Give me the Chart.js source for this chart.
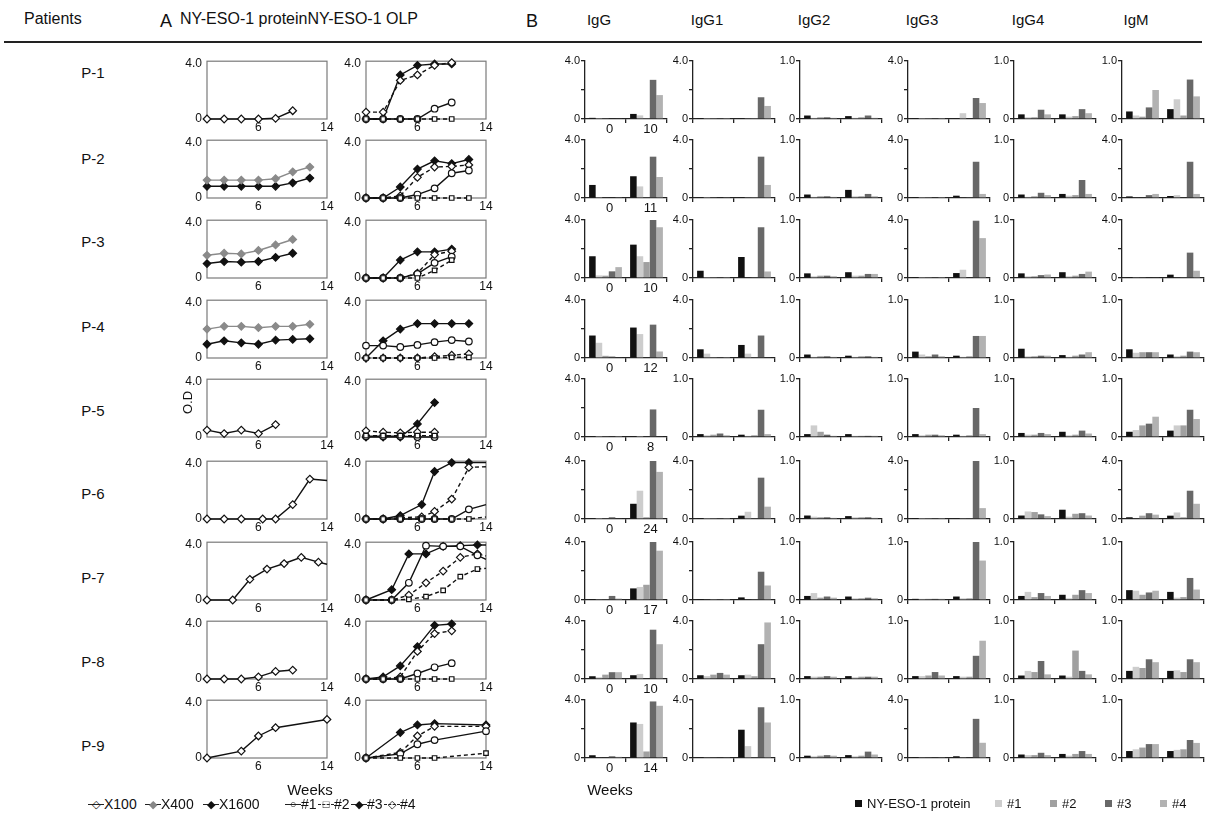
<!DOCTYPE html>
<html>
<head>
<meta charset="utf-8">
<script src="https://cdn.jsdelivr.net/npm/chart.js@4.4.1/dist/chart.umd.min.js"></script>
<style>
  body { margin: 0; background: #fff; }
  #fig { position: relative; width: 1211px; height: 815px; overflow: hidden; font-family: "Liberation Sans", Arial, sans-serif; color: #111; }
  .t { position: absolute; white-space: nowrap; }
  canvas { position: absolute; }
  .rule { position: absolute; left: 4px; top: 41px; width: 1198px; height: 2px; background: #222; }
</style>
</head>
<body>
<div id="fig"><div class="rule"></div></div>
<script>
const FONT = '"Liberation Sans", Arial, sans-serif';

// ---- data ----
const patients = ["P-1", "P-2", "P-3", "P-4", "P-5", "P-6", "P-7", "P-8", "P-9"];
const isotypes = ["IgG", "IgG1", "IgG2", "IgG3", "IgG4", "IgM"];
const barSeries = ["NY-ESO-1 protein", "#1", "#2", "#3", "#4"];
const lastWeek = ["10", "11", "10", "12", "8", "24", "17", "10", "14"];
const barMax = [
  [4, 4, 1, 4, 1, 1],
  [4, 4, 1, 4, 1, 4],
  [4, 4, 1, 4, 1, 4],
  [4, 4, 1, 1, 1, 1],
  [4, 1, 1, 1, 1, 1],
  [4, 4, 1, 4, 1, 4],
  [4, 4, 1, 1, 1, 1],
  [4, 4, 1, 1, 1, 1],
  [4, 4, 1, 4, 1, 1]
];

// NY-ESO-1 protein titration (O.D.)
const protP1 = { weeks: [0, 2, 4, 6, 8, 10], X100: [0, 0, 0, 0, 0.05, 0.6] };
const protP2 = { weeks: [0, 2, 4, 6, 8, 10, 12], X400: [1.3, 1.3, 1.3, 1.3, 1.4, 1.9, 2.25], X1600: [0.85, 0.85, 0.85, 0.85, 0.85, 1.1, 1.45] };
const protP3 = { weeks: [0, 2, 4, 6, 8, 10], X400: [1.65, 1.8, 1.75, 2.0, 2.4, 2.8], X1600: [1.05, 1.2, 1.15, 1.2, 1.5, 1.8] };
const protP4 = { weeks: [0, 2, 4, 6, 8, 10, 12], X400: [2.1, 2.3, 2.3, 2.2, 2.3, 2.3, 2.45], X1600: [1.0, 1.25, 1.1, 1.0, 1.3, 1.35, 1.4] };
const protP5 = { weeks: [0, 2, 4, 6, 8], X100: [0.5, 0.25, 0.5, 0.25, 0.9] };
const protP6 = { weeks: [0, 2, 4, 6.5, 8, 10, 12, 14], X100: [0, 0, 0, 0, 0, 1.05, 2.9, 2.8] };
const protP7 = { weeks: [0, 3, 5, 7, 9, 11, 13, 14], X100: [0, 0, 1.5, 2.25, 2.65, 3.1, 2.75, 2.6] };
const protP8 = { weeks: [0, 2, 4, 6, 8, 10], X100: [0, 0, 0, 0.15, 0.55, 0.65] };
const protP9 = { weeks: [0, 4, 6, 8, 14], X100: [0, 0.5, 1.6, 2.2, 2.8] };

// NY-ESO-1 OLP #1-#4 (O.D.)
const olpP1 = { weeks: [0, 2, 4, 6, 8, 10], s1: [0, 0, 0, 0, 0.75, 1.2], s2: [0, 0, 0, 0, 0, 0], s3: [0, 0, 3.2, 3.9, 4.0, 4.0], s4: [0.5, 0.5, 2.8, 3.2, 3.9, 4.1] };
const olpP2 = { weeks: [0, 2, 4, 6, 8, 10, 12], s1: [0, 0, 0, 0.25, 0.7, 1.8, 2.0], s2: [0, 0, 0, 0, 0, 0, 0], s3: [0, 0, 0.8, 2.1, 2.7, 2.5, 2.8], s4: [0, 0, 0.15, 1.5, 2.25, 2.3, 2.4] };
const olpP3 = { weeks: [0, 2, 4, 6, 8, 10], s1: [0, 0, 0, 0.3, 1.1, 1.55], s2: [0, 0, 0, 0, 0.55, 1.3], s3: [0, 0, 1.3, 1.9, 1.9, 2.1], s4: [0, 0, 0, 0.35, 1.7, 1.95] };
const olpP4 = { weeks: [0, 2, 4, 6, 8, 10, 12], s1: [0.9, 0.9, 0.8, 0.95, 1.15, 1.3, 1.2], s2: [0, 0, 0, 0, 0, 0.05, 0.05], s3: [0, 1.25, 2.1, 2.5, 2.5, 2.5, 2.5], s4: [0, 0, 0, 0, 0.1, 0.2, 0.3] };
const olpP5 = { weeks: [0, 2, 4, 6, 8], s1: [0.05, 0.05, 0.05, 0, 0], s2: [0.1, 0.1, 0.1, 0.1, 0.1], s3: [0, 0, 0, 0.95, 2.5], s4: [0.45, 0.35, 0.3, 0.35, 0.35] };
const olpP6 = { weeks: [0, 2, 4, 6.5, 8, 10, 12, 14], s1: [0, 0, 0, 0, 0, 0, 0.7, 1.05], s2: [0, 0, 0, 0, 0, 0, 0, 0.15], s3: [0, 0, 0.25, 1.05, 3.45, 4.1, 4.1, 4.1], s4: [0, 0, 0.1, 0.15, 0.55, 1.45, 3.75, 3.8] };
const olpP7 = { weeks: [0, 3, 5, 7, 9, 11, 13, 14], s1: [0, 0, 1.25, 3.95, 3.9, 3.9, 3.25, 2.95], s2: [0, 0, 0.05, 0.25, 0.7, 1.7, 2.25, 2.3], s3: [0, 0.75, 3.35, 3.35, 3.9, 3.95, 4.0, 4.0], s4: [0, 0, 0.35, 1.25, 2.1, 3.1, 3.35, 3.2] };
const olpP8 = { weeks: [0, 2, 4, 6, 8, 10], s1: [0, 0, 0, 0.4, 0.85, 1.15], s2: [0, 0, 0, 0, 0, 0], s3: [0, 0.15, 0.95, 2.35, 3.9, 4.0], s4: [0, 0, 0.15, 2.0, 3.3, 3.5] };
const olpP9 = { weeks: [0, 4, 6, 8, 14], s1: [0, 0.3, 1.0, 1.3, 1.95], s2: [0, 0, 0, 0, 0.35], s3: [0, 1.85, 2.4, 2.5, 2.4], s4: [0, 0.4, 1.6, 2.3, 2.3] };

// antibody subclass O.D., per isotype: [week 0 values, last week values], series order as barSeries
const barsP1 = [
  [[0.08, 0.02, 0.03, 0.05, 0.05], [0.35, 0.25, 0.02, 2.7, 1.65]],
  [[0.02, 0.02, 0.02, 0.02, 0.02], [0.05, 0.03, 0.02, 1.5, 0.9]],
  [[0.06, 0.02, 0.03, 0.03, 0.02], [0.05, 0.02, 0.03, 0.06, 0.02]],
  [[0.03, 0.02, 0.02, 0.02, 0.02], [0.05, 0.4, 0.05, 1.45, 1.1]],
  [[0.08, 0.03, 0.03, 0.16, 0.08], [0.08, 0.04, 0.05, 0.17, 0.1]],
  [[0.13, 0.06, 0.04, 0.2, 0.5], [0.17, 0.34, 0.06, 0.68, 0.39]]
];
const barsP2 = [
  [[0.9, 0.02, 0.05, 0.05, 0.03], [1.5, 0.8, 0.03, 2.85, 1.45]],
  [[0.04, 0.02, 0.03, 0.04, 0.03], [0.05, 0.03, 0.02, 2.85, 0.9]],
  [[0.06, 0.02, 0.03, 0.03, 0.02], [0.14, 0.03, 0.03, 0.07, 0.03]],
  [[0.03, 0.02, 0.02, 0.03, 0.02], [0.16, 0.05, 0.03, 2.5, 0.28]],
  [[0.06, 0.02, 0.03, 0.09, 0.05], [0.07, 0.04, 0.05, 0.31, 0.07]],
  [[0.11, 0.04, 0.05, 0.2, 0.28], [0.14, 0.2, 0.05, 2.5, 0.28]]
];
const barsP3 = [
  [[1.5, 0.18, 0.16, 0.46, 0.75], [2.3, 1.5, 1.1, 4.0, 3.5]],
  [[0.5, 0.02, 0.02, 0.02, 0.02], [1.45, 0.05, 0.03, 3.5, 0.45]],
  [[0.08, 0.03, 0.04, 0.04, 0.03], [0.1, 0.04, 0.04, 0.07, 0.07]],
  [[0.03, 0.02, 0.02, 0.02, 0.02], [0.34, 0.57, 0.05, 3.95, 2.75]],
  [[0.08, 0.03, 0.03, 0.05, 0.06], [0.1, 0.03, 0.04, 0.07, 0.11]],
  [[0.06, 0.06, 0.03, 0.05, 0.05], [0.23, 0.05, 0.03, 1.75, 0.5]]
];
const barsP4 = [
  [[1.55, 1.05, 0.15, 0.1, 0.05], [2.1, 1.65, 0.05, 2.3, 0.45]],
  [[0.6, 0.3, 0.02, 0.02, 0.02], [0.9, 0.3, 0.03, 1.55, 0.05]],
  [[0.06, 0.02, 0.03, 0.03, 0.02], [0.04, 0.02, 0.03, 0.03, 0.02]],
  [[0.11, 0.06, 0.03, 0.06, 0.03], [0.04, 0.02, 0.03, 0.38, 0.38]],
  [[0.16, 0.03, 0.03, 0.04, 0.04], [0.05, 0.02, 0.04, 0.06, 0.1]],
  [[0.15, 0.09, 0.1, 0.1, 0.1], [0.06, 0.03, 0.04, 0.11, 0.1]]
];
const barsP5 = [
  [[0.04, 0.02, 0.03, 0.03, 0.02], [0.05, 0.02, 0.05, 1.9, 0.05]],
  [[0.05, 0.03, 0.04, 0.06, 0.03], [0.04, 0.02, 0.03, 0.47, 0.05]],
  [[0.05, 0.2, 0.09, 0.04, 0.02], [0.05, 0.02, 0.02, 0.02, 0.02]],
  [[0.05, 0.03, 0.04, 0.04, 0.03], [0.04, 0.02, 0.03, 0.5, 0.05]],
  [[0.07, 0.04, 0.04, 0.07, 0.05], [0.09, 0.03, 0.04, 0.11, 0.06]],
  [[0.09, 0.12, 0.2, 0.23, 0.35], [0.11, 0.2, 0.2, 0.47, 0.31]]
];
const barsP6 = [
  [[0.05, 0.02, 0.03, 0.12, 0.05], [1.05, 1.95, 0.12, 4.0, 3.25]],
  [[0.02, 0.02, 0.02, 0.02, 0.02], [0.23, 0.5, 0.03, 2.85, 0.85]],
  [[0.06, 0.04, 0.03, 0.03, 0.02], [0.05, 0.03, 0.03, 0.03, 0.02]],
  [[0.02, 0.02, 0.02, 0.02, 0.02], [0.05, 0.03, 0.03, 4.0, 0.75]],
  [[0.06, 0.13, 0.12, 0.08, 0.05], [0.16, 0.04, 0.09, 0.1, 0.06]],
  [[0.12, 0.05, 0.23, 0.4, 0.3], [0.23, 0.45, 0.12, 1.95, 1.05]]
];
const barsP7 = [
  [[0.03, 0.03, 0.03, 0.28, 0.1], [0.8, 0.9, 1.05, 4.0, 3.4]],
  [[0.02, 0.05, 0.02, 0.02, 0.02], [0.18, 0.05, 0.03, 1.95, 1.0]],
  [[0.07, 0.12, 0.04, 0.06, 0.04], [0.06, 0.03, 0.03, 0.04, 0.03]],
  [[0.02, 0.02, 0.02, 0.02, 0.02], [0.06, 0.03, 0.03, 1.0, 0.68]],
  [[0.07, 0.14, 0.05, 0.12, 0.07], [0.09, 0.03, 0.09, 0.17, 0.12]],
  [[0.17, 0.16, 0.09, 0.13, 0.16], [0.14, 0.04, 0.05, 0.38, 0.18]]
];
const barsP8 = [
  [[0.19, 0.12, 0.3, 0.47, 0.47], [0.26, 0.35, 0.05, 3.4, 2.4]],
  [[0.26, 0.2, 0.3, 0.42, 0.3], [0.26, 0.3, 0.19, 2.4, 3.9]],
  [[0.05, 0.04, 0.04, 0.05, 0.04], [0.05, 0.03, 0.04, 0.04, 0.04]],
  [[0.05, 0.05, 0.06, 0.12, 0.06], [0.05, 0.04, 0.04, 0.4, 0.66]],
  [[0.06, 0.14, 0.12, 0.31, 0.08], [0.06, 0.04, 0.49, 0.14, 0.08]],
  [[0.14, 0.21, 0.19, 0.34, 0.29], [0.14, 0.15, 0.12, 0.34, 0.29]]
];
const barsP9 = [
  [[0.19, 0.05, 0.05, 0.12, 0.08], [2.45, 2.35, 0.45, 3.9, 3.6]],
  [[0.05, 0.03, 0.03, 0.03, 0.03], [1.95, 0.82, 0.03, 3.5, 2.45]],
  [[0.04, 0.03, 0.04, 0.05, 0.04], [0.05, 0.03, 0.04, 0.11, 0.06]],
  [[0.03, 0.03, 0.03, 0.03, 0.03], [0.12, 0.03, 0.05, 2.7, 1.05]],
  [[0.06, 0.05, 0.05, 0.09, 0.05], [0.07, 0.04, 0.07, 0.12, 0.07]],
  [[0.12, 0.15, 0.18, 0.24, 0.24], [0.12, 0.14, 0.15, 0.31, 0.26]]
];

const protData = [protP1, protP2, protP3, protP4, protP5, protP6, protP7, protP8, protP9];
const olpData = [olpP1, olpP2, olpP3, olpP4, olpP5, olpP6, olpP7, olpP8, olpP9];
const barData = [barsP1, barsP2, barsP3, barsP4, barsP5, barsP6, barsP7, barsP8, barsP9];
const openEndRows = [5, 6]; // P-6, P-7 lines run off the right edge

// ---- layout ----
const rowZero = [119, 198, 278, 358, 437, 519, 600, 679, 758];
const rowLabelY = [72, 158, 241, 326, 410, 493, 577, 661, 745];
const colLeftA = [207, 366];
const boxW = 120, boxH = 62;
const axisXB = [585, 693, 800, 908, 1014, 1122];
const barW = 82, barH = 58;

const barColors = ["#111111", "#cdcdcd", "#a0a0a0", "#686868", "#b2b2b2"];
const protStyle = {
  X100: { color: "#111", fill: "#fff", shape: "rectRot", r: 3.8, dash: [] },
  X400: { color: "#8a8a8a", fill: "#8a8a8a", shape: "rectRot", r: 3.8, dash: [] },
  X1600: { color: "#111", fill: "#111", shape: "rectRot", r: 3.8, dash: [] }
};
const olpStyle = {
  s2: { color: "#111", fill: "#fff", shape: "rect", r: 3.2, dash: [4, 3] },
  s1: { color: "#111", fill: "#fff", shape: "circle", r: 3.3, dash: [] },
  s4: { color: "#111", fill: "#fff", shape: "rectRot", r: 3.8, dash: [4, 3] },
  s3: { color: "#111", fill: "#111", shape: "rectRot", r: 3.8, dash: [] }
};

const fig = document.getElementById("fig");

function addText(str, x, y, size, align) {
  const d = document.createElement("div");
  d.className = "t";
  d.textContent = str;
  d.style.fontSize = size + "px";
  d.style.lineHeight = size + "px";
  d.style.top = (y - size / 2) + "px";
  d.style.left = x + "px";
  if (align === "center") d.style.transform = "translateX(-50%)";
  fig.appendChild(d);
  return d;
}

function addCanvas(left, top, w, h) {
  const c = document.createElement("canvas");
  c.width = w;
  c.height = h;
  c.style.left = left + "px";
  c.style.top = top + "px";
  fig.appendChild(c);
  return c;
}

const boxPlugin = {
  id: "box",
  beforeDatasetsDraw(chart) {
    const a = chart.chartArea, ctx = chart.ctx;
    ctx.save();
    ctx.strokeStyle = "#7a7a7a";
    ctx.lineWidth = 1.2;
    ctx.strokeRect(a.left, a.top, a.right - a.left, a.bottom - a.top);
    ctx.restore();
  }
};

function lineChart(boxLeft, zero, src, styles, openEnd) {
  const padT = 8, padR = 10, yW = 30, xH = 18;
  const c = addCanvas(boxLeft - yW, zero - boxH - padT, yW + boxW + padR, padT + boxH + xH);
  const datasets = Object.keys(styles).filter(k => src[k]).map(k => {
    const s = styles[k];
    const n = src[k].length;
    return {
      data: src[k].map((v, i) => ({ x: src.weeks[i], y: v })),
      borderColor: s.color,
      borderWidth: 1.4,
      borderDash: s.dash,
      pointStyle: s.shape,
      pointRadius: src[k].map((v, i) => (openEnd && i === n - 1 ? 0 : s.r)),
      pointBackgroundColor: s.fill,
      pointBorderColor: s.color,
      pointBorderWidth: 1.2,
      clip: false
    };
  });
  new Chart(c, {
    type: "line",
    data: { datasets },
    plugins: [boxPlugin],
    options: {
      responsive: false,
      animation: false,
      layout: { padding: { top: padT, right: padR, left: 0, bottom: 0 } },
      plugins: { legend: { display: false }, tooltip: { enabled: false } },
      scales: {
        x: {
          type: "linear", min: 0, max: 14,
          grid: { display: false, drawTicks: false, tickLength: 0 }, border: { display: false },
          afterBuildTicks: s => { s.ticks = [{ value: 6 }, { value: 14 }]; },
          afterFit: s => { s.height = xH; },
          ticks: { font: { size: 12, family: FONT }, color: "#111", padding: 1, maxRotation: 0, autoSkip: false }
        },
        y: {
          min: 0, max: 4.2,
          grid: { display: false, drawTicks: false, tickLength: 0 }, border: { display: false },
          afterBuildTicks: s => { s.ticks = [{ value: 0 }, { value: 4 }]; },
          afterFit: s => { s.width = yW; },
          ticks: { font: { size: 12, family: FONT }, color: "#111", padding: 5, callback: v => (v === 0 ? "0" : "4.0") }
        }
      }
    }
  });
}

function barChart(axisX, zero, vals, max, week, showX) {
  const padT = 8, padR = 6, yW = 26, xH = 18;
  const c = addCanvas(axisX - yW, zero - barH - padT, yW + barW + padR, padT + barH + xH);
  const datasets = barSeries.map((name, j) => ({
    label: name,
    data: [vals[0][j], vals[1][j]],
    backgroundColor: barColors[j],
    borderWidth: 0,
    categoryPercentage: 0.8,
    barPercentage: 1.0
  }));
  const axisLine = { color: "#222", width: 1.3 };
  new Chart(c, {
    type: "bar",
    data: { labels: ["0", week], datasets },
    options: {
      responsive: false,
      animation: false,
      layout: { padding: { top: padT, right: padR, left: 0, bottom: 0 } },
      plugins: { legend: { display: false }, tooltip: { enabled: false } },
      scales: {
        x: {
          grid: { offset: true, drawOnChartArea: false, drawTicks: true, tickLength: 4, color: "#222", lineWidth: 1.3 },
          border: axisLine,
          afterFit: s => { s.height = xH; },
          ticks: { display: showX, font: { size: 13, family: FONT }, color: "#111", padding: -1, labelOffset: 4, maxRotation: 0 }
        },
        y: {
          min: 0, max: max,
          grid: { drawOnChartArea: false, drawTicks: true, tickLength: 4, color: "#222", lineWidth: 1.3 },
          border: axisLine,
          afterBuildTicks: s => { s.ticks = (max === 4 ? [0, 2, 4] : [0, 1]).map(v => ({ value: v })); },
          afterFit: s => { s.width = yW; },
          ticks: { font: { size: 11, family: FONT }, color: "#111", padding: 1, callback: v => (v === 0 ? "0" : v === max ? max.toFixed(1) : "") }
        }
      }
    }
  });
}

// ---- header ----
addText("Patients", 24, 19, 16);
addText("A", 160, 21, 18);
addText("NY-ESO-1 proteinNY-ESO-1 OLP", 180, 19, 16);
addText("B", 526, 21, 18);
isotypes.forEach((iso, k) => addText(iso, axisXB[k] + 14, 19, 15, "center"));

// ---- rows ----
patients.forEach((p, i) => {
  const zero = rowZero[i];
  addText(p, 93, rowLabelY[i], 15, "center");
  const open = openEndRows.includes(i);
  lineChart(colLeftA[0], zero, protData[i], protStyle, open);
  lineChart(colLeftA[1], zero, olpData[i], olpStyle, open);
  isotypes.forEach((iso, k) => {
    barChart(axisXB[k], zero, barData[i][k], barMax[i][k], lastWeek[i], k === 0);
  });
});

// O.D label
const od = addText("O.D", 176, 402, 13);
od.style.transform = "rotate(-90deg)";

// ---- bottom labels and legends ----
addText("Weeks", 310, 789, 15, "center");
addText("Weeks", 610, 789, 15, "center");

function legendItem(x, y, sym, symColor, dashed, label) {
  const wrap = document.createElement("div");
  wrap.className = "t";
  wrap.style.left = x + "px";
  wrap.style.top = (y - 7) + "px";
  wrap.style.fontSize = "14px";
  wrap.style.lineHeight = "14px";
  const line = document.createElement("span");
  line.style.cssText = "display:inline-block;position:relative;width:16px;height:14px;vertical-align:top;";
  line.innerHTML = '<span style="position:absolute;left:0;right:0;top:7px;border-top:1.3px ' + (dashed ? "dashed" : "solid") + ' #222"></span>' +
    '<span style="position:absolute;left:0;right:0;top:0;text-align:center;font-size:11px;line-height:14px;color:' + symColor + '">' + sym + "</span>";
  wrap.appendChild(line);
  wrap.appendChild(document.createTextNode(label));
  fig.appendChild(wrap);
}
legendItem(88, 804, "\u25C7", "#111", false, "X100");
legendItem(145, 804, "\u25C6", "#888", false, "X400");
legendItem(203, 804, "\u25C6", "#111", false, "X1600");
legendItem(285, 804, "\u25CB", "#111", false, "#1");
legendItem(318, 804, "\u25A1", "#111", true, "#2");
legendItem(351, 804, "\u25C6", "#111", false, "#3");
legendItem(384, 804, "\u25C7", "#111", true, "#4");

const legB = [["NY-ESO-1 protein", 855], ["#1", 995], ["#2", 1050], ["#3", 1105], ["#4", 1160]];
legB.forEach((e, j) => {
  const d = document.createElement("div");
  d.className = "t";
  d.style.left = e[1] + "px";
  d.style.top = "797px";
  d.style.fontSize = "13px";
  d.style.lineHeight = "14px";
  d.innerHTML = '<span style="display:inline-block;width:7px;height:7px;margin-right:5px;vertical-align:1px;background:' + barColors[j] + '"></span>' + e[0];
  fig.appendChild(d);
});
</script>
</body>
</html>
